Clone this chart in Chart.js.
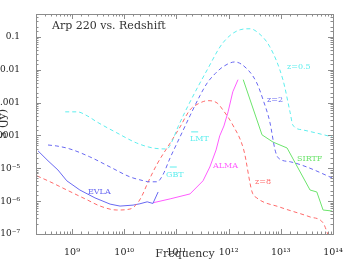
<!DOCTYPE html>
<html>
<head>
<meta charset="utf-8">
<script src="https://cdn.jsdelivr.net/npm/chart.js@4.4.1/dist/chart.umd.min.js"></script>
<style>
  body { margin: 0; background: #fff; }
</style>
</head>
<body>
<canvas id="grafico" width="354" height="264"></canvas>
<script>
// valores: log10 da frequencia (Hz) e log10 do fluxo (Jy)
const z05Nu = [8.87, 9.10, 9.29, 9.48, 9.86, 10.24, 10.55, 10.82, 10.91, 11.03, 11.26, 11.59, 11.89, 12.22, 12.41, 12.54, 12.79, 13.04, 13.18, 13.23, 13.42, 13.98];
const z05S  = [-3.28, -3.28, -3.40, -3.59, -3.92, -4.23, -4.38, -4.41, -4.20, -3.74, -2.98, -2.00, -1.18, -0.78, -0.75, -0.84, -1.30, -2.30, -3.31, -3.68, -3.83, -4.04];

const z2Nu = [8.54, 8.71, 8.96, 9.34, 9.73, 10.11, 10.30, 10.49, 10.63, 10.74, 10.88, 11.07, 11.26, 11.45, 11.59, 11.74, 11.89, 12.12, 12.37, 12.54, 12.66, 12.79, 12.89, 12.95, 13.18, 13.50, 13.98];
const z2S  = [-4.29, -4.32, -4.41, -4.65, -4.96, -5.26, -5.35, -5.41, -5.41, -5.20, -4.68, -4.04, -3.40, -2.79, -2.40, -2.12, -1.91, -1.76, -2.00, -2.40, -2.91, -3.59, -4.44, -4.68, -4.80, -4.96, -5.29];

const z8Nu = [8.33, 8.58, 8.90, 9.29, 9.54, 9.86, 10.11, 10.24, 10.34, 10.44, 10.63, 10.88, 11.07, 11.26, 11.45, 11.60, 11.78, 11.89, 12.08, 12.29, 12.45, 12.54, 12.98, 13.56, 13.81, 13.90, 13.96];
const z8S  = [-5.23, -5.41, -5.66, -5.96, -6.15, -6.27, -6.24, -6.09, -5.84, -5.48, -4.87, -4.23, -3.74, -3.22, -3.01, -2.94, -3.01, -3.22, -3.68, -4.44, -5.72, -5.90, -6.18, -6.48, -6.66, -7.00, -7.20];

const evlaNu = [8.35, 8.54, 8.73, 8.90, 9.15, 9.44, 9.73, 9.92, 10.17, 10.30, 10.44, 10.55, 10.65];
const evlaS  = [-4.47, -4.77, -5.05, -5.38, -5.66, -5.90, -6.09, -6.15, -6.12, -6.08, -6.02, -6.07, -5.72];

const almaNu = [10.55, 10.88, 11.26, 11.51, 11.64, 11.76, 11.83, 11.91, 11.99, 12.08, 12.18];
const almaS  = [-6.05, -5.93, -5.78, -5.38, -4.96, -4.44, -4.01, -3.71, -3.28, -2.67, -2.30];

const sirtfNu = [12.28, 12.64, 12.85, 13.12, 13.56, 13.69, 13.81, 13.98];
const sirtfS  = [-2.30, -3.98, -4.20, -4.38, -5.66, -5.72, -6.27, -6.30];

const lmtNu = [11.35], lmtS = [-3.89];
const gbtNu = [10.94], gbtS = [-4.96];

// rotulos dos eixos
const xTickLabels = { 9: '10⁹', 10: '10¹⁰', 11: '10¹¹', 12: '10¹²', 13: '10¹³', 14: '10¹⁴' };
const yTickLabels = { '-1': '0.1', '-2': '0.01', '-3': '0.001', '-4': '0.0001', '-5': '10⁻⁵', '-6': '10⁻⁶', '-7': '10⁻⁷' };

const CIANO = '#5eeeee', AZUL = '#6868f2', VERMELHO = '#ff6a6a', MAGENTA = '#ff5cff', VERDE = '#6ce46c';
const FONTE = '"DejaVu Serif", serif';

function serie(nu, s) {
    return nu.map((v, i) => ({ x: Math.pow(10, v), y: Math.pow(10, s[i]) }));
}

function expoente(v) {
    const e = Math.round(Math.log10(v));
    return Math.abs(Math.log10(v) - e) < 1e-6 ? e : null;
}

function tracejada(nu, s, cor) {
    return {
        data: serie(nu, s), borderColor: cor, borderWidth: 1, borderDash: [4, 3],
        showLine: true, pointRadius: 0, cubicInterpolationMode: 'monotone', clip: 0
    };
}

function solida(nu, s, cor) {
    return {
        data: serie(nu, s), borderColor: cor, borderWidth: 1,
        showLine: true, pointRadius: 0, tension: 0, clip: 0
    };
}

function marcador(nu, s, cor) {
    return {
        data: serie(nu, s), borderColor: cor, borderWidth: 1, showLine: false,
        pointStyle: 'line', pointRadius: 3.5, clip: 0
    };
}

// textos sobre o grafico (posicoes em pixels do canvas)
const textos = [
    { t: 'Arp 220 vs. Redshift', x: 52, y: 26, cor: '#333', tam: 11 },
    { t: 'z=0.5', x: 287, y: 67, cor: CIANO, tam: 8 },
    { t: 'z=2', x: 267, y: 100, cor: AZUL, tam: 8 },
    { t: 'SIRTF', x: 297, y: 159, cor: VERDE, tam: 8 },
    { t: 'z=8', x: 255, y: 182, cor: VERMELHO, tam: 8 },
    { t: 'ALMA', x: 213, y: 166, cor: MAGENTA, tam: 8 },
    { t: 'LMT', x: 190, y: 139, cor: CIANO, tam: 8 },
    { t: 'GBT', x: 166, y: 175, cor: CIANO, tam: 8 },
    { t: 'EVLA', x: 88, y: 192, cor: AZUL, tam: 8 }
];

const molduraPlugin = {
    id: 'moldura',
    afterDatasetsDraw(chart) {
        const { ctx, chartArea: a, scales: { x, y } } = chart;
        ctx.save();
        ctx.strokeStyle = '#8c8c8c';
        ctx.lineWidth = 1;
        ctx.strokeRect(a.left + 0.5, a.top + 0.5, a.right - a.left, a.bottom - a.top);
        ctx.beginPath();
        x.ticks.forEach(t => {
            if (t.value <= x.min || t.value >= x.max) return;
            const px = Math.round(x.getPixelForValue(t.value)) + 0.5;
            const len = expoente(t.value) !== null ? 5 : 2.5;
            ctx.moveTo(px, a.bottom); ctx.lineTo(px, a.bottom - len);
            ctx.moveTo(px, a.top); ctx.lineTo(px, a.top + len);
        });
        y.ticks.forEach(t => {
            if (t.value <= y.min || t.value >= y.max) return;
            const py = Math.round(y.getPixelForValue(t.value)) + 0.5;
            const len = expoente(t.value) !== null ? 5 : 2.5;
            ctx.moveTo(a.left, py); ctx.lineTo(a.left + len, py);
            ctx.moveTo(a.right, py); ctx.lineTo(a.right - len, py);
        });
        ctx.stroke();

        ctx.textBaseline = 'middle';
        ctx.textAlign = 'left';
        textos.forEach(r => {
            ctx.font = r.tam + 'px ' + FONTE;
            ctx.fillStyle = r.cor;
            ctx.fillText(r.t, r.x, r.y);
        });
        // titulos dos eixos
        ctx.fillStyle = '#333';
        ctx.font = '11px ' + FONTE;
        ctx.textAlign = 'center';
        ctx.fillText('Frequency', 185, 254);
        ctx.translate(3, 124);
        ctx.rotate(-Math.PI / 2);
        ctx.fillText('S (Jy)', 0, 0);
        ctx.restore();
    }
};

new Chart(document.getElementById('grafico'), {
    type: 'scatter',
    data: {
        datasets: [
            tracejada(z05Nu, z05S, CIANO),
            tracejada(z2Nu, z2S, AZUL),
            tracejada(z8Nu, z8S, VERMELHO),
            solida(evlaNu, evlaS, AZUL),
            solida(almaNu, almaS, MAGENTA),
            solida(sirtfNu, sirtfS, VERDE),
            marcador(lmtNu, lmtS, CIANO),
            marcador(gbtNu, gbtS, CIANO)
        ]
    },
    options: {
        responsive: false,
        animation: false,
        layout: { padding: { top: 14, right: 21, left: 0, bottom: 0 } },
        plugins: { legend: { display: false }, tooltip: { enabled: false } },
        scales: {
            x: {
                type: 'logarithmic',
                min: Math.pow(10, 8.31),
                max: 1e14,
                grid: { display: false },
                border: { display: false },
                afterFit(s) { s.height = 30; },
                ticks: {
                    autoSkip: false, maxRotation: 0, padding: 5,
                    color: '#222', font: { family: FONTE, size: 9.5 },
                    callback: v => { const e = expoente(v); return e !== null && xTickLabels[e] ? xTickLabels[e] : ''; }
                }
            },
            y: {
                type: 'logarithmic',
                min: 1e-7,
                max: Math.pow(10, -0.3),
                grid: { display: false },
                border: { display: false },
                afterFit(s) { s.width = 36; },
                ticks: {
                    autoSkip: false, padding: 8,
                    color: '#222', font: { family: FONTE, size: 9 },
                    callback: v => { const e = expoente(v); return e !== null && yTickLabels[e] ? yTickLabels[e] : ''; }
                }
            }
        }
    },
    plugins: [molduraPlugin]
});
</script>
</body>
</html>
